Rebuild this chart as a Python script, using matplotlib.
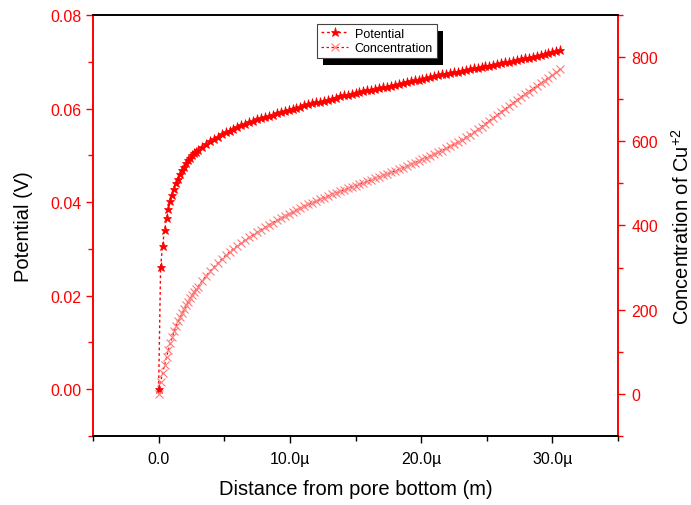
import matplotlib
matplotlib.use('Agg')
import matplotlib.pyplot as plt
from matplotlib.patches import Rectangle
from matplotlib.transforms import IdentityTransform
from matplotlib.ticker import MultipleLocator

plt.rcParams['font.family'] = ['Liberation Sans', 'DejaVu Sans']
plt.rcParams['mathtext.default'] = 'regular'

# distance from pore bottom, in micrometres
distance_um = [0.0, 0.15, 0.3, 0.45, 0.6, 0.75, 0.9, 1.05, 1.2, 1.35, 1.5,
               1.65, 1.8, 1.95, 2.1, 2.25, 2.4, 2.55, 2.7, 2.85, 3.0,
               3.3, 3.6, 3.9, 4.2, 4.5, 4.8, 5.1, 5.4, 5.7, 6.0,
               6.3, 6.6, 6.9, 7.2, 7.5, 7.8, 8.1, 8.4, 8.7, 9.0,
               9.3, 9.6, 9.9, 10.2, 10.5, 10.8, 11.1, 11.4, 11.7, 12.0,
               12.3, 12.6, 12.9, 13.2, 13.5, 13.8, 14.1, 14.4, 14.7, 15.0,
               15.3, 15.6, 15.9, 16.2, 16.5, 16.8, 17.1, 17.4, 17.7, 18.0,
               18.3, 18.6, 18.9, 19.2, 19.5, 19.8, 20.1, 20.4, 20.7, 21.0,
               21.3, 21.6, 21.9, 22.2, 22.5, 22.8, 23.1, 23.4, 23.7, 24.0,
               24.3, 24.6, 24.9, 25.2, 25.5, 25.8, 26.1, 26.4, 26.7, 27.0,
               27.3, 27.6, 27.9, 28.2, 28.5, 28.8, 29.1, 29.4, 29.7, 30.0,
               30.3, 30.6]

potential = [0.0, 0.0262, 0.0307, 0.0340, 0.0365, 0.0386, 0.0403, 0.0416, 0.0429, 0.0440, 0.0450,
             0.0459, 0.0468, 0.0476, 0.0483, 0.0489, 0.0495, 0.0500, 0.0504, 0.0508, 0.0512,
             0.0518, 0.0524, 0.0530, 0.0535, 0.0540, 0.0545, 0.0549, 0.0553, 0.0557, 0.0561,
             0.0564, 0.0568, 0.0571, 0.0574, 0.0577, 0.0579, 0.0582, 0.0585, 0.0587, 0.0590,
             0.0592, 0.0595, 0.0597, 0.0600, 0.0602, 0.0604, 0.0607, 0.0609, 0.0611, 0.0613,
             0.0615, 0.0617, 0.0619, 0.0621, 0.0623, 0.0626, 0.0628, 0.0629, 0.0631, 0.0633,
             0.0635, 0.0637, 0.0639, 0.0640, 0.0642, 0.0644, 0.0646, 0.0647, 0.0649, 0.0651,
             0.0653, 0.0655, 0.0657, 0.0658, 0.0660, 0.0662, 0.0664, 0.0665, 0.0667, 0.0669,
             0.0671, 0.0673, 0.0674, 0.0676, 0.0678, 0.0679, 0.0681, 0.0682, 0.0684, 0.0686,
             0.0687, 0.0689, 0.0691, 0.0692, 0.0694, 0.0696, 0.0697, 0.0699, 0.0700, 0.0702,
             0.0704, 0.0705, 0.0707, 0.0709, 0.0711, 0.0712, 0.0714, 0.0716, 0.0718, 0.0720,
             0.0722, 0.0725]

concentration = [0, 28, 50, 68, 87, 105, 121, 136, 149, 162, 173,
                 183, 192, 201, 210, 219, 227, 234, 241, 249, 255,
                 268, 280, 291, 301, 311, 320, 329, 337, 345, 352,
                 359, 366, 372, 378, 384, 390, 396, 401, 407, 412,
                 417, 422, 427, 432, 437, 441, 446, 450, 454, 458,
                 462, 466, 470, 474, 477, 481, 484, 488, 491, 494,
                 498, 501, 505, 508, 512, 515, 519, 522, 526, 529,
                 533, 537, 541, 545, 549, 553, 557, 561, 565, 569,
                 574, 578, 583, 588, 593, 598, 604, 610, 616, 622,
                 628, 635, 642, 649, 656, 663, 670, 677, 684, 691,
                 698, 705, 712, 718, 725, 731, 738, 744, 751, 757,
                 764, 771]

x_ticks = [0, 10, 20, 30]
x_ticklabels = ['0.0', '10.0\u00b5', '20.0\u00b5', '30.0\u00b5']

fig = plt.figure(figsize=(6.91, 5.06), dpi=100)
ax = fig.add_axes([0.1346, 0.1364, 0.7598, 0.832])
ax2 = ax.twinx()

dash = (0, (2, 2))
l1, = ax.plot(distance_um, potential, color='red', linestyle=dash, linewidth=1,
              marker='*', markersize=6.5, markerfacecolor='red', markeredgecolor='red',
              markeredgewidth=0.5, label='Potential')
l2, = ax2.plot(distance_um, concentration, color='red', linestyle=dash, linewidth=0.9,
               marker='x', markersize=5.5, markeredgecolor='#ff7a7a', markeredgewidth=0.8,
               label='Concentration')

ax.set_xlim(-5, 35)
ax.set_ylim(-0.01, 0.08)
ax2.set_ylim(-100, 900)

ax.set_xticks(x_ticks)
ax.set_xticklabels(x_ticklabels)
ax.xaxis.set_minor_locator(MultipleLocator(5))
ax.yaxis.set_major_locator(MultipleLocator(0.02))
ax.yaxis.set_minor_locator(MultipleLocator(0.01))
ax.yaxis.set_major_formatter(matplotlib.ticker.FormatStrFormatter('%.2f'))
ax2.yaxis.set_major_locator(MultipleLocator(200))
ax2.yaxis.set_minor_locator(MultipleLocator(100))

ax.tick_params(axis='x', which='major', length=5, width=1, labelsize=11.5, pad=6)
ax.tick_params(axis='x', which='minor', length=3.5, width=1)
ax.tick_params(axis='y', which='major', length=5, width=1, colors='red', labelsize=11.5, pad=3.5)
ax.tick_params(axis='y', which='minor', length=3.5, width=1, colors='red')
ax2.tick_params(axis='y', which='major', length=5, width=1, colors='red', labelsize=11.5, pad=4.5)
ax2.tick_params(axis='y', which='minor', length=3.5, width=1, colors='red')

for a in (ax, ax2):
    a.spines['left'].set_color('red')
    a.spines['right'].set_color('red')
    for s in a.spines.values():
        s.set_linewidth(1.2)

ax.set_xlabel('Distance from pore bottom (m)', fontsize=14.5, labelpad=9)
ax.set_ylabel('Potential (V)', fontsize=14.5, labelpad=12)
ax2.set_ylabel('Concentration of Cu$^{+2}$', fontsize=14.5, labelpad=9)

leg = ax2.legend(handles=[l1, l2], loc='upper left', bbox_to_anchor=(0.4267, 0.9786),
                 borderaxespad=0, fontsize=9, fancybox=False, framealpha=1,
                 edgecolor='#444444', handlelength=2.2, handletextpad=0.5,
                 borderpad=0.3, labelspacing=0.2)
leg.get_frame().set_linewidth(0.8)
leg.set_zorder(5)

# solid black drop shadow behind the legend box
fig.canvas.draw()
bb = leg.get_window_extent()
shadow = Rectangle((bb.x0 + 6, bb.y0 - 7), bb.width, bb.height,
                   transform=IdentityTransform(), facecolor='black',
                   edgecolor='none', zorder=4.9)
ax2.add_artist(shadow)

fig.savefig('out.png', dpi=100)
